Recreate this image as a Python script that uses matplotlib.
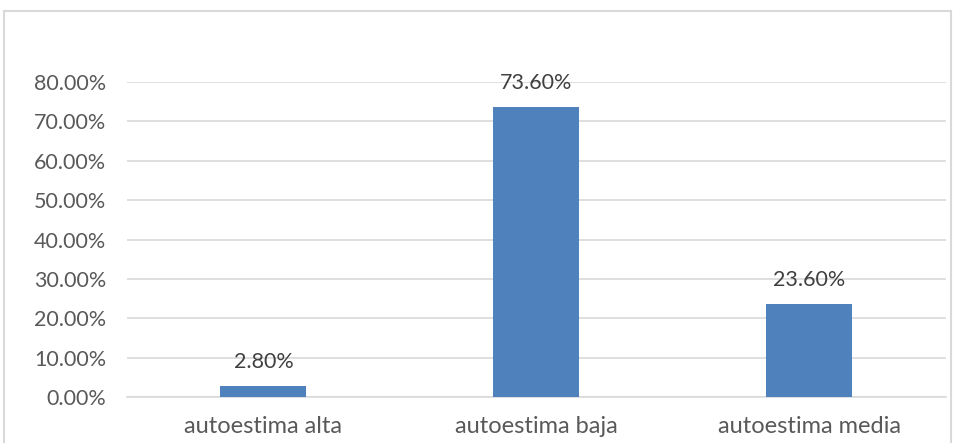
import matplotlib.pyplot as plt
from matplotlib.patches import Rectangle
from matplotlib.ticker import FuncFormatter

categories = ['autoestima alta', 'autoestima baja', 'autoestima media']
values = [0.028, 0.736, 0.236]
labels = ['2.80%', '73.60%', '23.60%']

plt.rcParams['font.family'] = ['Lato', 'DejaVu Sans']
text_color = '#595959'
grid_color = '#D9D9D9'

fig = plt.figure(figsize=(9.54, 4.43), dpi=100)
ax = fig.add_axes([0.1331, 0.1038, 0.8585, 0.7111])

x = range(len(categories))
bars = ax.bar(x, values, width=0.315, color='#4F81BD', zorder=3)

for b, lab in zip(bars, labels):
    ax.annotate(lab, (b.get_x() + b.get_width() / 2, b.get_height()),
                xytext=(0, 10), textcoords='offset points',
                ha='center', va='bottom', fontsize=15.5, color='#404040')

ax.set_ylim(0, 0.8)
ax.set_xlim(-0.5, 2.5)
ax.set_yticks([i / 10 for i in range(9)])
ax.yaxis.set_major_formatter(FuncFormatter(lambda v, p: f'{v * 100:.2f}%'))
ax.set_xticks(list(x))
ax.set_xticklabels(categories)
ax.tick_params(axis='both', length=0, colors=text_color)
ax.tick_params(axis='y', pad=15, labelsize=15.5)
ax.tick_params(axis='x', pad=14, labelsize=17)
ax.grid(axis='y', color=grid_color, linewidth=1.2, zorder=0)
for s in ['top', 'right', 'left']:
    ax.spines[s].set_visible(False)
ax.spines['bottom'].set_color(grid_color)
ax.spines['bottom'].set_linewidth(1.2)

# outer chart frame
fig.patches.append(Rectangle((4 / 954, -0.05), 947 / 954, 1.05 - 11 / 443,
                             transform=fig.transFigure, fill=False,
                             edgecolor=grid_color, linewidth=1.5))

fig.savefig('out.png', dpi=100)
